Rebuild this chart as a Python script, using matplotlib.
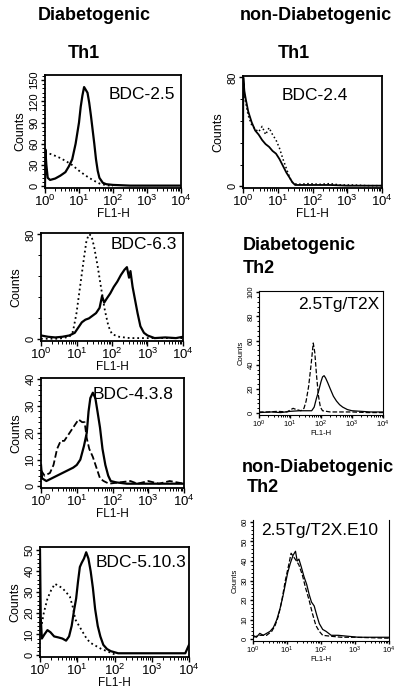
import matplotlib
matplotlib.use("Agg")
import matplotlib.pyplot as plt
import numpy as np
from matplotlib.ticker import LogLocator, LogFormatterMathtext, AutoMinorLocator, NullFormatter

plt.rcParams['font.family'] = ['Liberation Sans', 'DejaVu Sans']
plt.rcParams['mathtext.fontset'] = 'custom'
plt.rcParams['mathtext.rm'] = 'Liberation Sans'

W, H = 400, 692

bdc25_x = [0.0, 0.01, 0.04, 0.08, 0.15, 0.3, 0.45, 0.6, 0.7, 0.8, 0.9, 1.0, 1.05, 1.1, 1.15, 1.2,
           1.25, 1.3, 1.35, 1.4, 1.45, 1.5, 1.55, 1.6, 1.7, 1.8, 2.0, 2.5, 3.0, 3.5, 4.0]
bdc25_y = [0, 52, 30, 12, 9, 11, 15, 20, 28, 38, 60, 90, 112, 128, 140, 136,
           132, 118, 100, 80, 60, 38, 22, 12, 5, 3, 2, 1, 1, 1, 1]
bdc25_ctl_x = [0.0, 0.2, 0.4, 0.6, 0.8, 1.0, 1.2, 1.4, 1.6, 1.8, 2.0]
bdc25_ctl_y = [48, 45, 41, 36, 30, 22, 15, 9, 4, 1.5, 0.5]

bdc24_x = [0.0, 0.01, 0.04, 0.08, 0.15, 0.25, 0.35, 0.45, 0.55, 0.65, 0.75, 0.85, 0.95, 1.05,
           1.15, 1.25, 1.35, 1.42, 1.5, 2.0, 2.5, 3.0, 4.0]
bdc24_y = [0, 80, 70, 64, 55, 47, 41, 38, 34, 31, 29, 26, 24, 20, 15, 10, 6, 3, 1, 1, 1, 0.5, 0.5]
bdc24_ctl_x = [0.0, 0.05, 0.15, 0.25, 0.35, 0.45, 0.55, 0.65, 0.75, 0.85, 0.95, 1.05, 1.15, 1.25,
               1.35, 1.45, 1.6, 1.9, 2.2, 2.5, 2.8, 3.2, 3.6, 4.0]
bdc24_ctl_y = [75, 65, 52, 45, 42, 40, 44, 38, 43, 38, 34, 28, 20, 13, 6, 2, 1.5, 2, 1.5, 2, 1, 1, 0.5, 0.5]

bdc63_x = [0.0, 0.2, 0.4, 0.6, 0.8, 0.95, 1.05, 1.15, 1.25, 1.35, 1.45, 1.55, 1.65, 1.72, 1.78,
           1.85, 1.95, 2.05, 2.15, 2.25, 2.35, 2.42, 2.48, 2.52, 2.58, 2.65, 2.72, 2.8, 2.9, 3.0,
           3.2, 3.5, 3.8, 4.0]
bdc63_y = [3, 2, 1.5, 2, 3, 5, 9, 13, 15, 16, 18, 20, 24, 33, 28, 31, 35, 40, 44, 49, 53, 55,
           47, 52, 40, 30, 20, 10, 5, 3, 1, 1.5, 1, 2]
bdc63_ctl_x = [0.0, 0.5, 0.8, 0.9, 1.0, 1.1, 1.2, 1.28, 1.35, 1.42, 1.5, 1.6, 1.7, 1.8, 1.9, 2.0,
               2.2, 2.5, 3.0, 3.5, 4.0]
bdc63_ctl_y = [0.5, 0.5, 2, 6, 20, 40, 60, 75, 80, 79, 70, 55, 38, 22, 10, 4, 2, 1, 1, 1, 1]

bdc438_x = [0.0, 0.03, 0.15, 0.3, 0.45, 0.6, 0.75, 0.9, 1.0, 1.1, 1.2, 1.28, 1.33, 1.38, 1.45,
            1.52, 1.58, 1.65, 1.72, 1.8, 1.88, 1.95, 2.1, 2.4, 2.8, 3.2, 3.6, 4.0]
bdc438_y = [8, 3, 2, 3, 4, 5, 6, 7, 8, 10, 15, 20, 28, 33, 35, 33, 28, 22, 14, 8, 4, 2, 1.5,
            1, 1, 1, 1, 1]
bdc438_ctl_x = [0.0, 0.1, 0.25, 0.35, 0.45, 0.55, 0.65, 0.75, 0.85, 0.95, 1.05, 1.15, 1.22, 1.28,
                1.35, 1.45, 1.55, 1.65, 1.75, 1.9, 2.2, 2.5, 2.7, 3.0, 3.3, 3.6, 4.0]
bdc438_ctl_y = [6, 4, 5, 8, 14, 17, 17, 19, 21, 23, 25, 24, 24, 18, 14, 11, 7, 3, 2, 1, 1.5,
                2, 1, 2, 1, 2, 1]

bdc5103_x = [0.0, 0.02, 0.05, 0.12, 0.2, 0.28, 0.38, 0.5, 0.6, 0.7, 0.78, 0.85, 0.92, 0.97,
             1.02, 1.07, 1.12, 1.18, 1.24, 1.3, 1.36, 1.42, 1.48, 1.55, 1.62, 1.7, 1.8, 1.9,
             2.1, 2.5, 3.0, 3.5, 3.9, 4.0]
bdc5103_y = [50, 18, 8, 10, 12, 11, 9, 8.5, 8, 7, 9, 14, 22, 27, 35, 42, 44, 46, 49, 46, 40,
             32, 22, 14, 9, 5, 3, 2, 1, 1, 1, 1, 1, 5]
bdc5103_ctl_x = [0.05, 0.1, 0.2, 0.3, 0.4, 0.5, 0.6, 0.7, 0.8, 0.88, 0.95, 1.05, 1.15, 1.25,
                 1.35, 1.45, 1.55, 1.65, 1.8, 2.0]
bdc5103_ctl_y = [15, 20, 27, 31, 34, 33, 32, 30, 28, 23, 17, 14, 11, 8, 6, 5, 4, 3, 2, 0.5]

t2x_x = [0.0, 0.4, 0.7, 1.0, 1.3, 1.5, 1.7, 1.78, 1.85, 1.92, 2.0, 2.05, 2.1, 2.15, 2.22, 2.3,
         2.4, 2.5, 2.6, 2.7, 2.85, 3.0, 3.3, 3.6, 4.0]
t2x_y = [0.5, 1, 0.5, 1.5, 2, 2, 2, 5, 12, 18, 26, 30, 31, 29, 25, 20, 14, 10, 7, 5, 3, 2,
         1.5, 1, 1]
t2x_ctl_x = [0.0, 0.3, 0.6, 0.9, 1.1, 1.2, 1.35, 1.45, 1.52, 1.6, 1.68, 1.75, 1.8, 1.86, 1.92,
             1.98, 2.05, 2.3, 2.7, 3.0, 3.5, 4.0]
t2x_ctl_y = [1, 1, 1.5, 1, 4, 3, 2, 4, 10, 22, 40, 58, 50, 30, 14, 5, 2, 1, 1, 1, 0.5, 0.5]

e10_x = [0.0, 0.1, 0.2, 0.3, 0.4, 0.5, 0.6, 0.7, 0.8, 0.88, 0.95, 1.02, 1.1, 1.18, 1.25, 1.3,
         1.35, 1.42, 1.5, 1.58, 1.65, 1.72, 1.8, 1.88, 1.95, 2.05, 2.15, 2.3, 2.5, 2.8, 3.1,
         3.5, 4.0]
e10_y = [2, 1, 3, 2, 3, 4, 6, 10, 16, 22, 28, 34, 39, 43, 45, 40, 41, 37, 32, 28, 23, 19, 17,
         12, 8, 5, 4, 2, 2, 1.5, 1, 1, 1]
e10_ctl_x = [0.0, 0.2, 0.4, 0.55, 0.65, 0.75, 0.85, 0.95, 1.05, 1.12, 1.2, 1.28, 1.35, 1.45,
             1.55, 1.65, 1.75, 1.85, 1.95, 2.05, 2.3, 2.6, 3.0, 4.0]
e10_ctl_y = [1, 2, 2, 4, 7, 12, 20, 30, 38, 44, 42, 40, 38, 33, 26, 20, 13, 7, 4, 2, 1.5, 1,
             1, 0.5]


fig = plt.figure(figsize=(W / 100, H / 100), dpi=100)


def box(l, t, r, b):
    return fig.add_axes([l / W, 1 - b / H, (r - l) / W, (b - t) / H])


def histo(ax, x, y, cx, cy, ymax, yticks, label, lx, ly, ha, ctl_ls=':',
          lw=1.6, clw=1.3, small=False):
    ax.plot(10 ** np.array(x), y, color='black', lw=lw, zorder=3)
    ax.plot(10 ** np.array(cx), cy, color='black', lw=clw, ls=ctl_ls, zorder=2)
    ax.set_xscale('log')
    ax.set_xlim(1, 1e4)
    ax.set_ylim(-ymax * 0.015, ymax)
    ax.xaxis.set_major_locator(LogLocator(base=10, numticks=10))
    ax.xaxis.set_major_formatter(LogFormatterMathtext())
    ax.xaxis.set_minor_locator(LogLocator(base=10, subs=np.arange(2, 10), numticks=10))
    ax.xaxis.set_minor_formatter(NullFormatter())
    ax.set_yticks(yticks)
    ax.yaxis.set_minor_locator(AutoMinorLocator(5))
    fs = 5.5 if small else 9.5
    yfs = 5.5 if small else 8
    ax.tick_params(axis='x', which='major', labelsize=fs, length=3.5 if not small else 2.5,
                   width=1, pad=0.5)
    ax.tick_params(axis='y', which='major', labelsize=yfs, length=3 if not small else 2,
                   width=1, pad=1)
    ax.tick_params(which='minor', length=2 if not small else 1.5, width=0.7)
    for t in ax.get_yticklabels():
        t.set_rotation(90)
        t.set_va('center')
    ax.set_xlabel('FL1-H', fontsize=5.5 if small else 8.5, labelpad=-0.5)
    ax.set_ylabel('Counts', fontsize=5.5 if small else 9, labelpad=2)
    for s in ax.spines.values():
        s.set_linewidth(0.8 if small else 1.3)
    ax.text(lx, ly, label, transform=ax.transAxes, ha=ha, va='center',
            fontsize=12.5)


ax1 = box(45, 75, 181, 188)
histo(ax1, bdc25_x, bdc25_y, bdc25_ctl_x, bdc25_ctl_y, 157, [0, 30, 60, 90, 120, 150],
      'BDC-2.5', 0.96, 0.83, 'right')

ax2 = box(243, 76, 382, 188)
histo(ax2, bdc24_x, bdc24_y, bdc24_ctl_x, bdc24_ctl_y, 81, [0, 80],
      'BDC-2.4', 0.52, 0.83, 'center', lw=1.3, clw=1.1)

ax3 = box(41, 233, 183, 341)
histo(ax3, bdc63_x, bdc63_y, bdc63_ctl_x, bdc63_ctl_y, 81, [0, 80],
      'BDC-6.3', 0.96, 0.89, 'right')

ax4 = box(41, 378, 184, 488)
histo(ax4, bdc438_x, bdc438_y, bdc438_ctl_x, bdc438_ctl_y, 40.5, [0, 10, 20, 30, 40],
      'BDC-4.3.8', 0.93, 0.85, 'right', ctl_ls='--')

ax5 = box(40, 547, 189, 657)
histo(ax5, bdc5103_x, bdc5103_y, bdc5103_ctl_x, bdc5103_ctl_y, 51.5, [0, 10, 20, 30, 40, 50],
      'BDC-5.10.3', 0.98, 0.86, 'right')

ax6 = box(259, 291, 383, 415)
histo(ax6, t2x_x, t2x_y, t2x_ctl_x, t2x_ctl_y, 101, [0, 20, 40, 60, 80, 100],
      '2.5Tg/T2X', 0.97, 0.895, 'right', ctl_ls='--', lw=0.9, clw=0.9, small=True)

ax7 = box(253, 520, 389, 641)
histo(ax7, e10_x, e10_y, e10_ctl_x, e10_ctl_y, 61, [0, 10, 20, 30, 40, 50, 60],
      '2.5Tg/T2X.E10', 0.49, 0.91, 'center', ctl_ls='--', lw=0.9, clw=0.9, small=True)
ax7.spines['top'].set_visible(False)


def head(x, y, s, ha='center'):
    fig.text(x / W, 1 - y / H, s, ha=ha, va='center', fontsize=13, fontweight='bold')


head(94, 16, 'Diabetogenic')
head(84, 53, 'Th1')
head(316, 16, 'non-Diabetogenic')
head(294, 53, 'Th1')
head(243, 246, 'Diabetogenic', ha='left')
head(243, 269, 'Th2', ha='left')
head(242, 467, 'non-Diabetogenic', ha='left')
head(247, 487, 'Th2', ha='left')

fig.savefig('out.png', dpi=100)
